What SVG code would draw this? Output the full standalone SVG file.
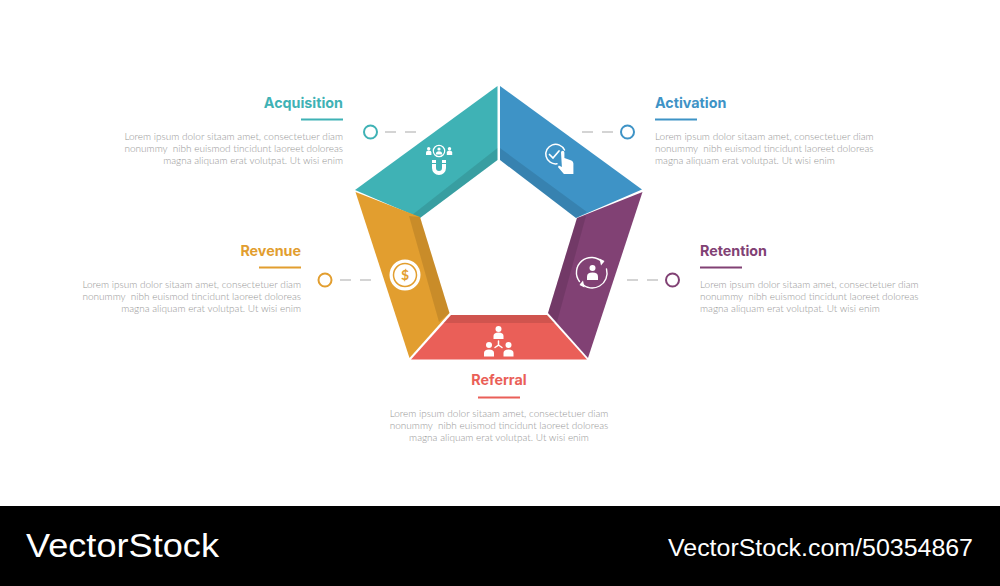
<svg xmlns="http://www.w3.org/2000/svg" width="1000" height="586" viewBox="0 0 1000 586">
<style>
.t{font-family:Inter,"Liberation Sans",sans-serif;font-weight:700;font-size:14.300px}
.b{font-family:Lato,"Liberation Sans",sans-serif;font-weight:300;font-size:10px;fill:#969696;white-space:pre}
.e{text-anchor:end}.m{text-anchor:middle}
.r{fill:none;stroke-width:2}
.d{stroke:#d4d4d4;stroke-width:2;stroke-dasharray:11 9;fill:none}
.w{fill:#fff}.ws{fill:none;stroke:#fff;stroke-linecap:round}
.s{fill:#000;fill-opacity:.11}
.v{font-family:"Liberation Sans",sans-serif;fill:#fff}
</style>
<rect width="1000" height="586" fill="#fff"/>
<g id="connectors">
<path class="d" d="M385 132H416"/>
<path class="d" d="M613 132H582"/>
<path class="d" d="M340 280H371"/>
<path class="d" d="M658 280H627"/>
</g>
<g id="acquisition">
<path fill="#3fb2b5" d="M497.500 86V160L420 218 355 190Z"/>
<path class="s" d="M497.500 148V160L420 218 412 215Z"/>
<circle class="ws" cx="439" cy="151" r="5.700" stroke-width="1.200"/>
<circle class="w" cx="439" cy="149" r="1.600"/><path class="w" d="M435.800 154.500a3.200 3.200 0 0 1 6.400 0Z"/>
<circle class="w" cx="428.700" cy="148.800" r="1.700"/><path class="w" d="M426 155v-2.500q0-2 2.700-2t2.700 2V155Z"/>
<circle class="w" cx="449.500" cy="148.800" r="1.700"/><path class="w" d="M446.800 155v-2.500q0-2 2.700-2t2.700 2V155Z"/>
<path class="w" d="M432 160h4v3h-4ZM442 160h4v3h-4ZM432 164h4v4a3 3 0 0 0 6 0v-4h4v4a7 7 0 0 1-14 0Z"/>
<circle class="r" cx="370.500" cy="132" r="6.500" stroke="#3fb2b5"/>
<text class="t e" x="343" y="108" fill="#3fb2b5">Acquisition</text>
<rect x="301" y="118.500" width="42" height="2" fill="#3fb2b5"/>
<text class="b e"><tspan x="343" y="140">Lorem ipsum dolor sitaam amet, consectetuer diam</tspan><tspan x="343" y="152">nonummy  nibh euismod tincidunt laoreet doloreas</tspan><tspan x="343" y="164">magna aliquam erat volutpat. Ut wisi enim</tspan></text>
</g>
<g id="activation">
<path fill="#3e93c6" d="M500 86V160L576 218 642 189.500Z"/>
<path class="s" d="M500 148V160L576 218 587 212Z"/>
<path class="ws" stroke-width="1.500" d="M557 163.800A9.800 9.800 0 1 1 564.500 150"/>
<path class="ws" stroke-width="1.700" d="M549.500 154.500l3.500 3.500 6-7"/>
<path class="w" d="M561 152.500a1.700 1.700 0 0 1 3.400 0v5.500l7 2.500q2 .8 2 3v10.500h-9.500l-6-7 1-1.500 3 1.500Z"/>
<circle class="r" cx="627.500" cy="132" r="6.500" stroke="#3e93c6"/>
<text class="t" x="655" y="108" fill="#3e93c6">Activation</text>
<rect x="655" y="118.500" width="42" height="2" fill="#3e93c6"/>
<text class="b"><tspan x="655" y="140">Lorem ipsum dolor sitaam amet, consectetuer diam</tspan><tspan x="655" y="152">nonummy  nibh euismod tincidunt laoreet doloreas</tspan><tspan x="655" y="164">magna aliquam erat volutpat. Ut wisi enim</tspan></text>
</g>
<g id="revenue">
<path fill="#e29e2f" d="M355.500 192L420 217 449.500 313 409.500 358Z"/>
<path class="s" d="M409 216L420 217 449.500 313 439 322Z"/>
<circle class="w" cx="405" cy="275" r="15.500"/>
<circle cx="405" cy="275" r="11.500" fill="none" stroke="#e29e2f" stroke-width="1.500"/>
<text x="405" y="280" text-anchor="middle" font-family="Lato,sans-serif" font-weight="700" font-size="14" fill="#e29e2f">$</text>
<circle class="r" cx="325" cy="280" r="6.500" stroke="#e29e2f"/>
<text class="t e" x="301" y="256" fill="#e29e2f">Revenue</text>
<rect x="259" y="266.500" width="42" height="2" fill="#e29e2f"/>
<text class="b e"><tspan x="301" y="288">Lorem ipsum dolor sitaam amet, consectetuer diam</tspan><tspan x="301" y="300">nonummy  nibh euismod tincidunt laoreet doloreas</tspan><tspan x="301" y="312">magna aliquam erat volutpat. Ut wisi enim</tspan></text>
</g>
<g id="retention">
<path fill="#814174" d="M642.500 192L577 218 548 313 588 358Z"/>
<path class="s" d="M586 216L577 218 548 313 557 322Z"/>
<path class="ws" stroke-width="1.400" d="M579.500 281.500A15 15 0 0 1 602.600 262.400M606.500 269A15 15 0 0 1 581.400 283.600"/>
<path class="w" d="M599.500 258.500l5 2.500-3.500 4.500ZM584.500 287.500l-5-2.500 3.500-4.500Z"/>
<circle class="w" cx="592.500" cy="268" r="3"/>
<path class="w" d="M587 280v-3.500q0-4 5.500-4t5.500 4v3.500Z"/>
<circle class="r" cx="672.500" cy="280" r="6.500" stroke="#814174"/>
<text class="t" x="700" y="256" fill="#814174">Retention</text>
<rect x="700" y="266.500" width="42" height="2" fill="#814174"/>
<text class="b"><tspan x="700" y="288">Lorem ipsum dolor sitaam amet, consectetuer diam</tspan><tspan x="700" y="300">nonummy  nibh euismod tincidunt laoreet doloreas</tspan><tspan x="700" y="312">magna aliquam erat volutpat. Ut wisi enim</tspan></text>
</g>
<g id="referral">
<path fill="#ea5f58" d="M451 315H547L587 359.500H411Z"/>
<path class="s" d="M451 315H547L555 323H443.500Z"/>
<circle class="w" cx="498.500" cy="329" r="3"/><path class="w" d="M493.500 339v-3q0-3.500 5-3.500t5 3.500v3Z"/>
<circle class="w" cx="489" cy="345" r="3"/><path class="w" d="M484 356.500v-3.500q0-3.500 5-3.500t5 3.500v3.500Z"/>
<circle class="w" cx="508.500" cy="345" r="3"/><path class="w" d="M503.500 356.500v-3.500q0-3.500 5-3.500t5 3.500v3.500Z"/>
<path class="ws" stroke-width="1.500" d="M498.500 341v4l-3.500 2.500M498.500 345l3.500 2.500"/>
<text class="t m" x="499" y="385" fill="#ea5f58">Referral</text>
<rect x="478" y="396.500" width="42" height="2" fill="#ea5f58"/>
<text class="b m"><tspan x="499" y="417">Lorem ipsum dolor sitaam amet, consectetuer diam</tspan><tspan x="499" y="429">nonummy  nibh euismod tincidunt laoreet doloreas</tspan><tspan x="499" y="441">magna aliquam erat volutpat. Ut wisi enim</tspan></text>
</g>
<g id="footer">
<rect y="506" width="1000" height="80" fill="#000"/>
<text class="v" x="26" y="557" font-size="34" textLength="193" lengthAdjust="spacingAndGlyphs">VectorStock</text>
<text class="v" x="668" y="556" font-size="23" textLength="305" lengthAdjust="spacingAndGlyphs">VectorStock.com/50354867</text>
</g>
</svg>
